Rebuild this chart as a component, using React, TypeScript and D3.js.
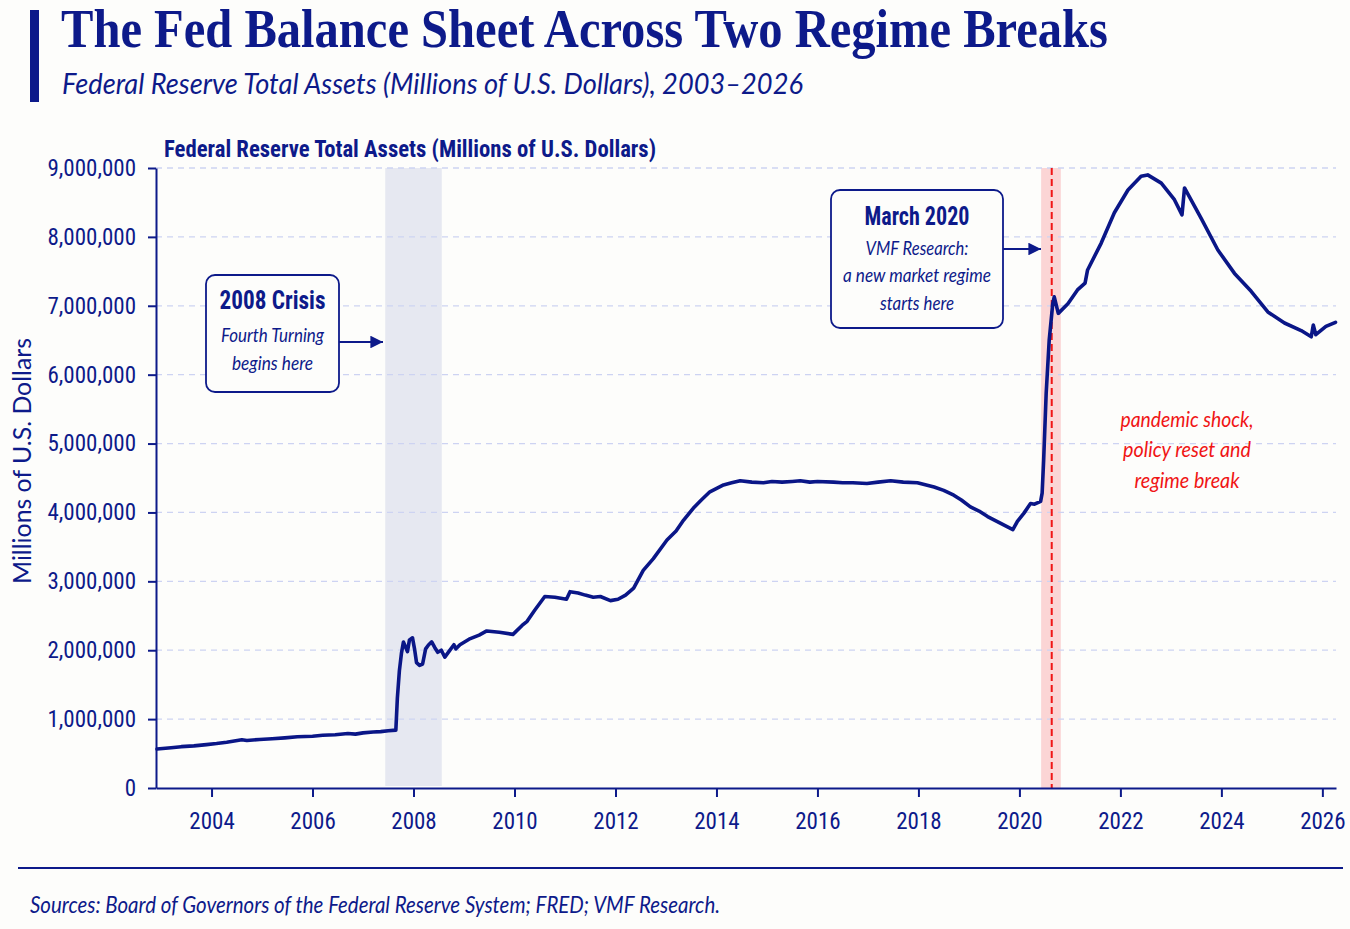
import { useEffect, useRef } from "react";
import * as d3 from "d3";

// Federal Reserve total assets, millions of USD
const years = [
  2002.92, 2003.2, 2003.4, 2003.65, 2003.9, 2004.1, 2004.3, 2004.6, 2004.7, 2004.95,
  2005.2, 2005.45, 2005.7, 2006.0, 2006.2, 2006.45, 2006.7, 2006.85, 2007.0, 2007.2,
  2007.35, 2007.5, 2007.65, 2007.68, 2007.72, 2007.76, 2007.8, 2007.84, 2007.88,
  2007.92, 2007.98, 2008.02, 2008.06, 2008.12, 2008.18, 2008.24, 2008.3, 2008.36, 2008.42,
  2008.48, 2008.55, 2008.62, 2008.7, 2008.8, 2008.84, 2008.92, 2009.1, 2009.3, 2009.45,
  2009.7, 2009.97, 2010.15, 2010.25, 2010.4, 2010.6, 2010.8, 2011.03, 2011.1, 2011.26,
  2011.4, 2011.56, 2011.7, 2011.9, 2012.05, 2012.2, 2012.36, 2012.55, 2012.75, 2013.02,
  2013.2, 2013.35, 2013.54, 2013.7, 2013.87, 2014.14, 2014.3, 2014.47, 2014.7, 2014.93,
  2015.1, 2015.3, 2015.5, 2015.66, 2015.85, 2016.0, 2016.32, 2016.5, 2016.7, 2016.98,
  2017.2, 2017.45, 2017.7, 2017.98, 2018.31, 2018.5, 2018.7, 2018.85, 2019.03, 2019.2,
  2019.37, 2019.63, 2019.87, 2019.96, 2020.09, 2020.22, 2020.3, 2020.42, 2020.45, 2020.48,
  2020.53, 2020.59, 2020.66, 2020.69, 2020.77, 2020.96, 2021.15, 2021.3, 2021.35, 2021.62,
  2021.88, 2022.15, 2022.41, 2022.54, 2022.81, 2023.07, 2023.22, 2023.27, 2023.6, 2023.93,
  2024.26, 2024.59, 2024.92, 2025.25, 2025.58, 2025.78, 2025.82, 2025.87, 2026.07, 2026.26,
];
const assets = [
  565000, 585000, 600000, 612000, 630000, 645000, 665000, 700000, 690000, 705000,
  715000, 728000, 745000, 752000, 765000, 772000, 790000, 782000, 800000, 812000,
  818000, 830000, 840000, 1300000, 1700000, 1950000, 2120000, 2050000, 1980000,
  2150000, 2180000, 2020000, 1820000, 1780000, 1800000, 2020000, 2080000, 2120000, 2040000,
  1970000, 2000000, 1900000, 1980000, 2080000, 2020000, 2080000, 2160000, 2220000, 2280000,
  2260000, 2230000, 2360000, 2420000, 2580000, 2780000, 2770000, 2740000, 2850000, 2830000,
  2800000, 2770000, 2780000, 2720000, 2740000, 2800000, 2900000, 3160000, 3330000, 3600000,
  3730000, 3890000, 4060000, 4180000, 4300000, 4400000, 4430000, 4460000, 4440000, 4430000,
  4450000, 4440000, 4450000, 4460000, 4440000, 4450000, 4440000, 4430000, 4430000, 4420000,
  4440000, 4460000, 4440000, 4430000, 4370000, 4320000, 4250000, 4180000, 4080000, 4020000,
  3940000, 3840000, 3750000, 3870000, 3990000, 4130000, 4120000, 4160000, 4280000, 4760000,
  5730000, 6500000, 7030000, 7130000, 6890000, 7030000, 7230000, 7330000, 7520000, 7910000,
  8350000, 8680000, 8880000, 8900000, 8780000, 8540000, 8320000, 8710000, 8270000, 7810000,
  7470000, 7210000, 6910000, 6750000, 6640000, 6550000, 6720000, 6580000, 6700000, 6760000,
];

const yTicks = [0, 1000000, 2000000, 3000000, 4000000, 5000000, 6000000, 7000000, 8000000, 9000000];
const xTicks = [2004, 2006, 2008, 2010, 2012, 2014, 2016, 2018, 2020, 2022, 2024, 2026];

const crisisBand = [2007.44, 2008.56];
const pandemicBand = [2020.43, 2020.82];
const regimeLine = 2020.64;

const NAVY = "#0d1a8a";
const RED = "#f01515";
const NARROW = "'Liberation Sans Narrow', 'Roboto Condensed', 'DejaVu Sans Condensed', Roboto, sans-serif";
const LIGHT = "Lato, 'Open Sans', sans-serif";

export default function App() {
  const ref = useRef<SVGSVGElement>(null);

  useEffect(() => {
    if (!ref.current) return;
    const svg = d3.select(ref.current);
    svg.selectAll("*").remove();

    const left = 156, right = 1336, top = 168, bottom = 788;
    const x = d3.scaleLinear().domain([2002.9, 2026.27]).range([left, right]);
    const y = d3.scaleLinear().domain([0, 9000000]).range([bottom, top]);

    const defs = svg.append("defs");
    defs
      .append("marker")
      .attr("id", "arrow")
      .attr("viewBox", "0 0 10 10")
      .attr("refX", 10)
      .attr("refY", 5)
      .attr("markerWidth", 7)
      .attr("markerHeight", 7)
      .attr("markerUnits", "strokeWidth")
      .attr("orient", "auto")
      .append("path")
      .attr("d", "M0,0 L10,5 L0,10 Z")
      .attr("fill", NAVY);

    svg.append("rect").attr("width", 1350).attr("height", 929).attr("fill", "#fdfdfb");

    // header
    svg.append("rect").attr("x", 30).attr("y", 10).attr("width", 9).attr("height", 92).attr("fill", NAVY);
    svg
      .append("text")
      .attr("x", 61)
      .attr("y", 47)
      .attr("textLength", 1047)
      .attr("lengthAdjust", "spacingAndGlyphs")
      .style("font-family", "'Liberation Serif', 'DejaVu Serif', serif")
      .style("font-weight", 700)
      .style("font-size", "54px")
      .style("fill", NAVY)
      .text("The Fed Balance Sheet Across Two Regime Breaks");
    svg
      .append("text")
      .attr("x", 62)
      .attr("y", 94)
      .attr("textLength", 741)
      .attr("lengthAdjust", "spacingAndGlyphs")
      .style("font-family", LIGHT)
      .style("font-style", "italic")
      .style("font-weight", 400)
      .style("font-size", "29px")
      .style("fill", NAVY)
      .text("Federal Reserve Total Assets (Millions of U.S. Dollars), 2003–2026");

    // bands
    svg
      .append("rect")
      .attr("x", x(crisisBand[0]))
      .attr("y", top)
      .attr("width", x(crisisBand[1]) - x(crisisBand[0]))
      .attr("height", bottom - top - 2)
      .attr("fill", "#e6e8f1");
    svg
      .append("rect")
      .attr("x", x(pandemicBand[0]))
      .attr("y", top)
      .attr("width", x(pandemicBand[1]) - x(pandemicBand[0]))
      .attr("height", bottom - top)
      .attr("fill", "#fbd5d5");

    // grid
    svg
      .append("g")
      .selectAll("line")
      .data(yTicks.filter((d) => d > 0))
      .join("line")
      .attr("x1", left)
      .attr("x2", right)
      .attr("y1", (d) => y(d))
      .attr("y2", (d) => y(d))
      .attr("stroke", "#cdd3f2")
      .attr("stroke-width", 1.3)
      .attr("stroke-dasharray", "6,5");

    // regime line
    svg
      .append("line")
      .attr("x1", x(regimeLine))
      .attr("x2", x(regimeLine))
      .attr("y1", top)
      .attr("y2", bottom)
      .attr("stroke", RED)
      .attr("stroke-width", 2)
      .attr("stroke-dasharray", "7,4");

    // axes
    const yAxis = svg
      .append("g")
      .attr("transform", `translate(${left},0)`)
      .call(
        d3.axisLeft(y).tickValues(yTicks).tickSize(8).tickSizeOuter(0).tickPadding(12).tickFormat(d3.format(","))
      );
    const xAxis = svg
      .append("g")
      .attr("transform", `translate(0,${bottom})`)
      .call(
        d3.axisBottom(x).tickValues(xTicks).tickSize(9).tickSizeOuter(0).tickPadding(10).tickFormat(d3.format("d"))
      );
    [yAxis, xAxis].forEach((a) => {
      a.select(".domain").attr("stroke", NAVY).attr("stroke-width", 2);
      a.selectAll(".tick line").attr("stroke", NAVY).attr("stroke-width", 2);
      a.selectAll("text").style("font-family", NARROW).style("font-size", "23px").style("fill", NAVY);
    });
    xAxis.selectAll("text").attr("dy", "0.95em");

    // line
    const points = years.map((t, i) => [t, assets[i]] as [number, number]);
    svg
      .append("path")
      .datum(points)
      .attr("fill", "none")
      .attr("stroke", "#0a1687")
      .attr("stroke-width", 3.6)
      .attr("stroke-linejoin", "round")
      .attr("stroke-linecap", "round")
      .attr("d", d3.line<[number, number]>().x((d) => x(d[0])).y((d) => y(d[1])));

    // chart title + y label
    svg
      .append("text")
      .attr("x", 164)
      .attr("y", 157)
      .attr("textLength", 492)
      .attr("lengthAdjust", "spacingAndGlyphs")
      .style("font-family", NARROW)
      .style("font-weight", 700)
      .style("font-size", "24px")
      .style("fill", NAVY)
      .text("Federal Reserve Total Assets (Millions of U.S. Dollars)");
    svg
      .append("text")
      .attr("transform", "translate(31,461) rotate(-90)")
      .attr("text-anchor", "middle")
      .attr("textLength", 246)
      .attr("lengthAdjust", "spacingAndGlyphs")
      .style("font-family", LIGHT)
      .style("font-weight", 400)
      .style("font-size", "25px")
      .style("fill", NAVY)
      .text("Millions of U.S. Dollars");

    // annotation boxes
    const boxes = [
      {
        x: 206, y: 275, w: 133, h: 117, arrowY: 342, arrowTo: 383,
        lines: [
          { t: "2008 Crisis", y: 309, bold: true, len: 106 },
          { t: "Fourth Turning", y: 342, bold: false, len: 103 },
          { t: "begins here", y: 370, bold: false, len: 81 },
        ],
      },
      {
        x: 831, y: 190, w: 172, h: 138, arrowY: 249, arrowTo: 1041,
        lines: [
          { t: "March 2020", y: 225, bold: true, len: 105 },
          { t: "VMF Research:", y: 255, bold: false, len: 103 },
          { t: "a new market regime", y: 282, bold: false, len: 148 },
          { t: "starts here", y: 310, bold: false, len: 74 },
        ],
      },
    ];
    boxes.forEach((b) => {
      svg
        .append("rect")
        .attr("x", b.x)
        .attr("y", b.y)
        .attr("width", b.w)
        .attr("height", b.h)
        .attr("rx", 9)
        .attr("fill", "#fdfdfb")
        .attr("stroke", NAVY)
        .attr("stroke-width", 1.8);
      svg
        .append("line")
        .attr("x1", b.x + b.w)
        .attr("x2", b.arrowTo)
        .attr("y1", b.arrowY)
        .attr("y2", b.arrowY)
        .attr("stroke", NAVY)
        .attr("stroke-width", 1.8)
        .attr("marker-end", "url(#arrow)");
      b.lines.forEach((l) => {
        svg
          .append("text")
          .attr("x", b.x + b.w / 2)
          .attr("y", l.y)
          .attr("text-anchor", "middle")
          .attr("textLength", l.len)
          .attr("lengthAdjust", "spacingAndGlyphs")
          .style("font-family", l.bold ? NARROW : LIGHT)
          .style("font-weight", l.bold ? 700 : 400)
          .style("font-style", l.bold ? "normal" : "italic")
          .style("font-size", l.bold ? "26px" : "19px")
          .style("fill", NAVY)
          .text(l.t);
      });
    });

    // red note
    const note = [
      { t: "pandemic shock,", y: 427, len: 133 },
      { t: "policy reset and", y: 457, len: 128 },
      { t: "regime break", y: 488, len: 105 },
    ];
    note.forEach((l) => {
      svg
        .append("text")
        .attr("x", 1187)
        .attr("y", l.y)
        .attr("text-anchor", "middle")
        .attr("textLength", l.len)
        .attr("lengthAdjust", "spacingAndGlyphs")
        .style("font-family", LIGHT)
        .style("font-style", "italic")
        .style("font-weight", 400)
        .style("font-size", "21px")
        .style("fill", RED)
        .text(l.t);
    });

    // footer
    svg
      .append("line")
      .attr("x1", 18)
      .attr("x2", 1343)
      .attr("y1", 868)
      .attr("y2", 868)
      .attr("stroke", NAVY)
      .attr("stroke-width", 2);
    svg
      .append("text")
      .attr("x", 30)
      .attr("y", 913)
      .attr("textLength", 690)
      .attr("lengthAdjust", "spacingAndGlyphs")
      .style("font-family", LIGHT)
      .style("font-style", "italic")
      .style("font-weight", 400)
      .style("font-size", "23px")
      .style("fill", NAVY)
      .text("Sources:  Board of Governors of the Federal Reserve System; FRED; VMF Research.");
  }, []);

  return (
    <>
      <style>{`body{margin:0;background:#fdfdfb}`}</style>
      <svg ref={ref} width={1350} height={929} style={{ display: "block" }} />
    </>
  );
}
